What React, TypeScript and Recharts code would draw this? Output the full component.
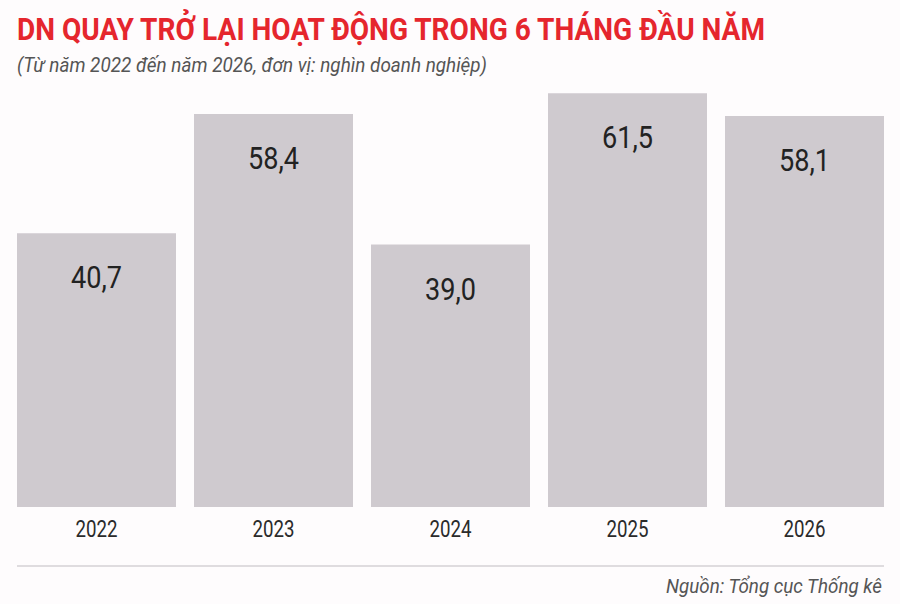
import React from "react";
import { BarChart, Bar, XAxis, YAxis, LabelList } from "recharts";

const years = ["2022", "2023", "2024", "2025", "2026"];
const values = [40.7, 58.4, 39.0, 61.5, 58.1];
const valueLabels = ["40,7", "58,4", "39,0", "61,5", "58,1"];

const data = years.map((y, i) => ({ year: y, value: values[i], label: valueLabels[i] }));

const TITLE = "DN QUAY TRỞ LẠI HOẠT ĐỘNG TRONG 6 THÁNG ĐẦU NĂM";
const SUBTITLE = "(Từ năm 2022 đến năm 2026, đơn vị: nghìn doanh nghiệp)";
const SOURCE = "Nguồn: Tổng cục Thống kê";

const FONT = "Roboto, 'Noto Sans', sans-serif";

const YearTick = (props: any) => {
  const { x, y, payload } = props;
  return (
    <text
      x={x}
      y={y + 22}
      textAnchor="middle"
      fontFamily={FONT}
      fontSize={24}
      fill="#2b2b2b"
      textLength={42}
      lengthAdjust="spacingAndGlyphs"
    >
      {payload.value}
    </text>
  );
};

const ValueLabel = (props: any) => {
  const { x, y, width, index } = props;
  return (
    <text
      x={x + width / 2}
      y={y + 55}
      textAnchor="middle"
      fontFamily={FONT}
      fontSize={31}
      fill="#222"
      textLength={51}
      lengthAdjust="spacingAndGlyphs"
    >
      {valueLabels[index]}
    </text>
  );
};

export default function App() {
  return (
    <div style={{ position: "absolute", left: 0, top: 0, width: 900, height: 604, background: "#fefcfd" }}>
      <svg width={900} height={604} style={{ position: "absolute", left: 0, top: 0 }}>
        <text
          x={17}
          y={40}
          fontFamily={FONT}
          fontWeight={700}
          fontSize={31}
          fill="#e5262d"
          textLength={748}
          lengthAdjust="spacingAndGlyphs"
        >
          {TITLE}
        </text>
        <text
          x={17}
          y={72}
          fontFamily={FONT}
          fontStyle="italic"
          fontSize={21}
          fill="#555"
          textLength={470}
          lengthAdjust="spacingAndGlyphs"
        >
          {SUBTITLE}
        </text>
        <line x1={17} y1={566} x2={884} y2={566} stroke="#d4d2d4" strokeWidth={1.5} />
        <text
          x={882}
          y={593}
          textAnchor="end"
          fontFamily={FONT}
          fontStyle="italic"
          fontSize={20}
          fill="#555"
          textLength={216}
          lengthAdjust="spacingAndGlyphs"
        >
          {SOURCE}
        </text>
      </svg>
      <div style={{ position: "absolute", left: 0, top: 0 }}>
        <BarChart
          width={900}
          height={604}
          data={data}
          margin={{ top: 36, right: 7, bottom: 67, left: 8 }}
          barSize={159}
        >
          <XAxis
            dataKey="year"
            axisLine={false}
            tickLine={false}
            height={30}
            tick={<YearTick />}
            interval={0}
          />
          <YAxis hide domain={[0, 70]} />
          <Bar dataKey="value" fill="#cfcacf" isAnimationActive={false}>
            <LabelList dataKey="label" content={<ValueLabel />} />
          </Bar>
        </BarChart>
      </div>
    </div>
  );
}
